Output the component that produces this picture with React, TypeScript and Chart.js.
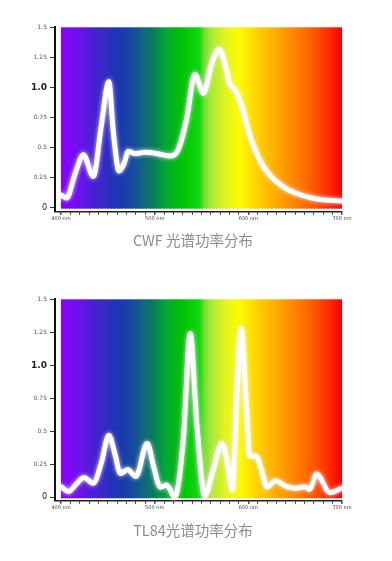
import React, { useEffect, useRef } from 'react';
import { Chart, registerables } from 'chart.js';

Chart.register(...registerables);

// ---- data ----
const cwfWavelengths = [400, 406, 415, 424, 434.5, 443, 451, 456, 462, 467, 472, 479, 489.5, 502, 516, 525, 534, 543, 552, 561, 569, 575, 580, 587, 594.5, 601.5, 612, 623, 637, 651, 669, 687, 699];
const cwfValues = [0.105, 0.08, 0.28, 0.44, 0.26, 0.68, 1.05, 0.62, 0.305, 0.36, 0.47, 0.45, 0.46, 0.45, 0.43, 0.48, 0.73, 1.11, 0.95, 1.2, 1.32, 1.2, 1.04, 0.97, 0.81, 0.605, 0.4, 0.27, 0.175, 0.12, 0.078, 0.061, 0.056];

const tl84Wavelengths = [400, 408, 417, 424.5, 434.5, 443, 451, 457.5, 463.5, 471, 480, 492, 499, 506, 513, 521.5, 530.5, 538, 545, 553.5, 562.5, 572, 578.5, 583, 588, 592.6, 598, 601.5, 608.6, 614, 620, 629, 640.6, 651, 660, 665.5, 673, 687, 700];
const tl84Values = [0.08, 0.043, 0.106, 0.15, 0.106, 0.26, 0.47, 0.33, 0.18, 0.21, 0.157, 0.41, 0.23, 0.076, 0.093, 0.0, 0.43, 1.24, 0.56, 0.01, 0.21, 0.41, 0.23, 0.055, 0.81, 1.28, 0.69, 0.31, 0.31, 0.21, 0.076, 0.126, 0.08, 0.068, 0.08, 0.06, 0.177, 0.035, 0.07];

const yTickValues = [0, 0.25, 0.5, 0.75, 1.0, 1.25, 1.5];
const xMajorTicks = [400, 500, 600, 700];
const xMinorStep = 10;

const captions = ['CWF 光谱功率分布', 'TL84光谱功率分布'];

const spectrumStops: [number, string][] = [
  [400, '#8a00ff'],
  [420, '#6a12ea'],
  [440, '#3d26cc'],
  [460, '#1d36b4'],
  [475, '#1646a2'],
  [488, '#0f6680'],
  [498, '#0a7a5a'],
  [511, '#02a636'],
  [530, '#00c400'],
  [548, '#10d810'],
  [553, '#70e030'],
  [560, '#a8e83a'],
  [575, '#e0f420'],
  [590, '#fcfc00'],
  [606, '#ffd800'],
  [628, '#ffae00'],
  [645, '#ff8c00'],
  [665, '#ff6400'],
  [683, '#ff3400'],
  [700, '#ff0000'],
];

const spectrumPlugin = {
  id: 'spectrum',
  beforeDatasetsDraw(chart: any) {
    const { ctx, scales } = chart;
    const x = scales.x, y = scales.y;
    const x0 = x.getPixelForValue(400);
    const x1 = x.getPixelForValue(700);
    const yTop = y.getPixelForValue(1.5);
    const yBot = y.getPixelForValue(0);
    const g = ctx.createLinearGradient(x0, 0, x1, 0);
    spectrumStops.forEach(([nm, c]) => g.addColorStop((nm - 400) / 300, c));
    ctx.save();
    ctx.fillStyle = g;
    ctx.fillRect(x0, yTop, x1 - x0, yBot - yTop + 1);
    ctx.restore();
  },
  beforeDatasetDraw(chart: any) {
    const ctx = chart.ctx;
    ctx.save();
    ctx.shadowColor = 'rgba(255,235,255,0.9)';
    ctx.shadowBlur = 4;
  },
  afterDatasetDraw(chart: any) {
    chart.ctx.restore();
  },
};

function xTickList() {
  const arr: { value: number }[] = [];
  for (let v = xMajorTicks[0]; v <= xMajorTicks[xMajorTicks.length - 1]; v += xMinorStep) arr.push({ value: v });
  return arr;
}

interface Cfg {
  wl: number[];
  vals: number[];
  width: number;
  height: number;
  padTop: number;
  xAxisHeight: number;
  yMin: number;
  xMin: number;
}

function SpectrumChart({ wl, vals, width, height, padTop, xAxisHeight, yMin, xMin }: Cfg) {
  const ref = useRef<HTMLCanvasElement | null>(null);
  useEffect(() => {
    if (!ref.current) return;
    const chart = new Chart(ref.current, {
      type: 'line',
      data: {
        datasets: [
          {
            data: wl.map((w, i) => ({ x: w, y: vals[i] })),
            borderColor: '#ffffff',
            borderWidth: 5,
            pointRadius: 0,
            cubicInterpolationMode: 'monotone',
            fill: false,
            borderCapStyle: 'round',
            borderJoinStyle: 'round',
          },
        ],
      },
      options: {
        animation: false,
        responsive: false,
        devicePixelRatio: 1,
        layout: { autoPadding: false, padding: { top: padTop, left: 0, right: 50, bottom: 0 } },
        plugins: { legend: { display: false }, tooltip: { enabled: false } },
        scales: {
          x: {
            type: 'linear',
            min: xMin,
            max: 700,
            afterBuildTicks: (s: any) => { s.ticks = xTickList(); },
            afterFit: (s: any) => { s.height = xAxisHeight; },
            grid: {
              drawOnChartArea: false,
              drawTicks: true,
              tickLength: 3,
              color: '#333',
              lineWidth: (c: any) => (c.tick && c.tick.value % 100 === 0 ? 1.5 : 1),
            },
            border: { display: true, color: '#222', width: 1.5 },
            ticks: {
              autoSkip: false,
              maxRotation: 0,
              padding: 1,
              color: '#444',
              font: { size: 5, family: 'DejaVu Sans' },
              callback: (v: any) => (Number(v) % 100 === 0 ? `${v} nm` : ''),
            },
          },
          y: {
            type: 'linear',
            min: yMin,
            max: 1.5,
            afterBuildTicks: (s: any) => { s.ticks = yTickValues.map((v) => ({ value: v })); },
            afterFit: (s: any) => { s.width = 55; },
            grid: {
              drawOnChartArea: false,
              drawTicks: true,
              tickLength: 5,
              color: '#333',
              lineWidth: 1,
            },
            border: { display: true, color: '#111', width: 2 },
            ticks: {
              padding: 3,
              color: (c: any) => (c.tick && (c.tick.value === 1 || c.tick.value === 0) ? '#222' : '#555'),
              font: (c: any) => {
                const v = c.tick ? c.tick.value : -1;
                if (v === 1) return { size: 9, weight: 'bold', family: 'DejaVu Sans' };
                if (v === 0) return { size: 8, family: 'DejaVu Sans' };
                return { size: 6, family: 'DejaVu Sans' };
              },
              callback: (v: any) => (Number(v) === 1 ? '1.0' : String(v)),
            },
          },
        },
      },
      plugins: [spectrumPlugin],
    } as any);
    return () => chart.destroy();
  }, []);
  return <canvas ref={ref} width={width} height={height} style={{ display: 'block', width, height }} />;
}

export default function App() {
  const captionStyle: React.CSSProperties = {
    position: 'absolute',
    left: 0,
    width: 386,
    textAlign: 'center',
    fontFamily: '"Noto Sans CJK SC", "Noto Sans", sans-serif',
    fontSize: 14.5,
    color: '#8c8c8c',
    lineHeight: '20px',
  };
  return (
    <div style={{ position: 'absolute', left: 0, top: 0, width: 392, height: 561, background: '#fff', overflow: 'hidden' }}>
      <div style={{ position: 'absolute', left: 0, top: 0 }}>
        <SpectrumChart wl={cwfWavelengths} vals={cwfValues} width={392} height={230} padTop={27.3} xAxisHeight={18.3} yMin={-0.0333} xMin={393.6} />
      </div>
      <div style={{ ...captionStyle, top: 230 }}>{captions[0]}</div>
      <div style={{ position: 'absolute', left: 0, top: 280 }}>
        <SpectrumChart wl={tl84Wavelengths} vals={tl84Values} width={392} height={240} padTop={19.3} xAxisHeight={19.3} yMin={-0.026} xMin={393.6} />
      </div>
      <div style={{ ...captionStyle, top: 520 }}>{captions[1]}</div>
    </div>
  );
}
